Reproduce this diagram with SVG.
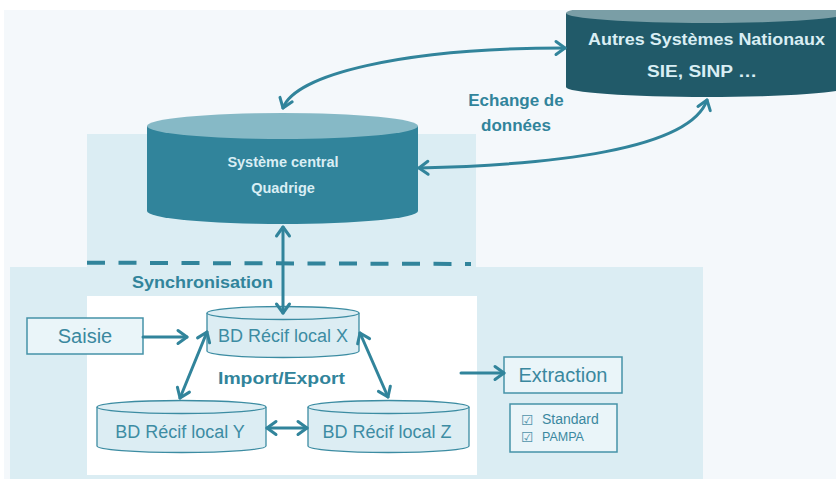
<svg xmlns="http://www.w3.org/2000/svg" width="836" height="479" viewBox="0 0 836 479">
<defs>
<style>
.conn{fill:none;stroke:#31849b;stroke-width:3;stroke-linecap:round}
.lbl{font-family:"Liberation Sans",Arial,sans-serif;font-weight:bold;fill:#31849b}
.bigcyl{font-family:"Liberation Sans",Arial,sans-serif;font-weight:bold;fill:#d9eef4}
.db{fill:#dcedf3;stroke:#3c8ca2;stroke-width:1.3}
.dbt{font-family:"Liberation Sans",Arial,sans-serif;font-size:18px;fill:#3d8ca3;text-anchor:middle}
.box{fill:#eaf5f9;stroke:#4592a8;stroke-width:1.5}
.boxt{font-family:"Liberation Sans",Arial,sans-serif;fill:#3a889f}
.chk{font-family:"DejaVu Sans",sans-serif;font-size:14px;fill:#4f93aa}
</style>
<marker id="ah" viewBox="-12 -9 15 18" refX="0" refY="0" markerWidth="15" markerHeight="18" markerUnits="userSpaceOnUse" orient="auto-start-reverse">
<path d="M-9,-6.5 L0,0 L-9,6.5" fill="none" stroke="#31849b" stroke-width="3" stroke-linecap="round" stroke-linejoin="round"/>
</marker>
<clipPath id="clipTop"><rect x="0" y="10" width="836" height="469"/></clipPath>
</defs>

<rect x="0" y="0" width="836" height="479" fill="#ffffff"/>
<rect x="4" y="10" width="832" height="469" fill="#f4f8fb"/>
<rect x="87" y="134" width="389" height="134" fill="#dbedf3"/>
<rect x="10" y="267" width="693" height="212" fill="#dbedf3"/>
<rect x="87" y="296" width="390" height="179" fill="#ffffff"/>
<line x1="87" y1="262.7" x2="471" y2="264" stroke="#31849b" stroke-width="4" stroke-dasharray="18 13.5"/>

<text class="lbl" x="132" y="288" font-size="17" textLength="141" lengthAdjust="spacingAndGlyphs">Synchronisation</text>
<text class="lbl" x="218" y="384" font-size="17" textLength="127" lengthAdjust="spacingAndGlyphs">Import/Export</text>
<text class="lbl" x="516" y="106" font-size="17" text-anchor="middle" fill="#3a8ea6">Echange de</text>
<text class="lbl" x="516" y="131" font-size="17" text-anchor="middle" fill="#3a8ea6">données</text>

<g id="autres" clip-path="url(#clipTop)">
<path d="M566,13 L566,87 A141,10 0 0 0 848,87 L848,13 Z" fill="#215a69"/>
<ellipse cx="707" cy="13" rx="141" ry="10" fill="#7a9ea6"/>
<text class="bigcyl" x="588" y="45" font-size="16" textLength="237" lengthAdjust="spacingAndGlyphs">Autres Systèmes Nationaux</text>
<text class="bigcyl" x="647" y="77" font-size="16" textLength="110" lengthAdjust="spacingAndGlyphs">SIE, SINP …</text>
</g>

<g id="central">
<path d="M147,126 L147,211 A135.5,13 0 0 0 418,211 L418,126 Z" fill="#31849b"/>
<ellipse cx="282.5" cy="126" rx="135.5" ry="13" fill="#86b9c6"/>
<text class="bigcyl" x="283" y="167" font-size="14.5" text-anchor="middle">Système central</text>
<text class="bigcyl" x="283" y="193" font-size="14.5" text-anchor="middle">Quadrige</text>
</g>

<g id="dbx">
<path class="db" d="M207,313 L207,351 A76,6.5 0 0 0 359,351 L359,313"/>
<ellipse class="db" cx="283" cy="313" rx="76" ry="6.5"/>
<text class="dbt" x="283" y="342">BD Récif local X</text>
</g>

<g id="dby">
<path class="db" d="M97,407 L97,446 A84.5,6.5 0 0 0 266,446 L266,407"/>
<ellipse class="db" cx="181.5" cy="407" rx="84.5" ry="6.5"/>
<text class="dbt" x="180" y="438">BD Récif local Y</text>
</g>

<g id="dbz">
<path class="db" d="M308,407 L308,446 A80.5,6.5 0 0 0 469,446 L469,407"/>
<ellipse class="db" cx="388.5" cy="407" rx="80.5" ry="6.5"/>
<text class="dbt" x="387" y="438">BD Récif local Z</text>
</g>

<g id="saisie">
<rect class="box" x="27" y="318" width="116" height="36"/>
<text class="boxt" x="85" y="343" font-size="20" text-anchor="middle">Saisie</text>
</g>

<g id="extraction">
<rect class="box" x="504" y="357" width="118" height="36"/>
<text class="boxt" x="563" y="382" font-size="20" text-anchor="middle">Extraction</text>
</g>

<g id="formats">
<rect class="box" x="510" y="404" width="107" height="48"/>
<text class="chk" x="521" y="425">☑</text>
<text class="chk" x="521" y="442">☑</text>
<text class="boxt" x="542" y="424" font-size="14">Standard</text>
<text class="boxt" x="542" y="441" font-size="12.5">PAMPA</text>
</g>

<g id="connectors">
<path class="conn" d="M283,108 C295,75 400,48 565,48" marker-start="url(#ah)" marker-end="url(#ah)"/>
<path class="conn" d="M419,168 C550,165 690,150 707,100" marker-start="url(#ah)" marker-end="url(#ah)"/>
<path class="conn" d="M283,227 L283,313" marker-start="url(#ah)" marker-end="url(#ah)"/>
<path class="conn" d="M143,337 L187,337" marker-end="url(#ah)"/>
<path class="conn" d="M207,332 L180,398" marker-start="url(#ah)" marker-end="url(#ah)"/>
<path class="conn" d="M360,333 L388,397" marker-start="url(#ah)" marker-end="url(#ah)"/>
<path class="conn" d="M267,428 L307,428" marker-start="url(#ah)" marker-end="url(#ah)"/>
<path class="conn" d="M461,373 L504,373" marker-end="url(#ah)"/>
</g>
</svg>
